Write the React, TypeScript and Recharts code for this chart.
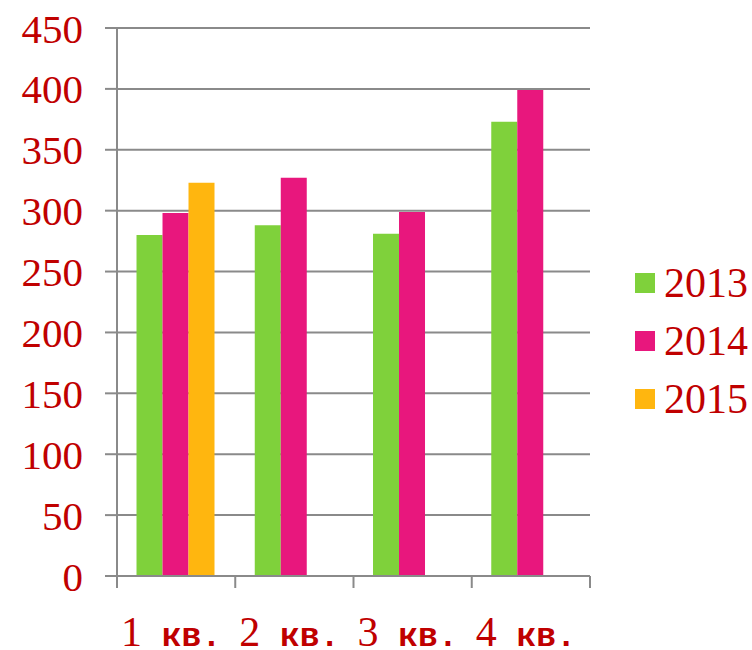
import React from "react";
import { BarChart, Bar, XAxis, YAxis, CartesianGrid } from "recharts";

// Quarterly figures by year
const quarters = ["1 кв.", "2 кв.", "3 кв.", "4 кв."];
const values2013 = [280, 288, 281, 373];
const values2014 = [298, 327, 299, 399];
const values2015: (number | null)[] = [323, null, null, null];
const yTicks = [0, 50, 100, 150, 200, 250, 300, 350, 400, 450];

const series = [
  { key: "y2013", name: "2013", color: "#7FD13B" },
  { key: "y2014", name: "2014", color: "#E8177D" },
  { key: "y2015", name: "2015", color: "#FFB60F" },
];

const TEXT_RED = "#C00000";
const LINE_GRAY = "#8A8A8A";
const SERIF = "'Liberation Serif', 'Times New Roman', serif";
const MONO = "'Liberation Mono', 'Courier New', monospace";

const data = quarters.map((q, i) => ({
  quarter: q,
  y2013: values2013[i],
  y2014: values2014[i],
  y2015: values2015[i],
}));

// Category label: quarter number in serif, the "кв." suffix in bold monospace,
// plus tick marks on the band boundaries.
const QuarterTick = (props: any) => {
  const { x, y, payload, index } = props;
  const label: string = payload.value;
  const spaceAt = label.indexOf(" ");
  const num = label.slice(0, spaceAt);
  const rest = label.slice(spaceAt);
  const half = payload.offset ?? 0;
  const isLast = index === quarters.length - 1;
  return (
    <g>
      <line x1={x - half} x2={x - half} y1={y} y2={y + 12} stroke={LINE_GRAY} strokeWidth={2} />
      {isLast && (
        <line x1={x + half} x2={x + half} y1={y} y2={y + 12} stroke={LINE_GRAY} strokeWidth={2} />
      )}
      <text x={x} y={y + 70} dx={-5} textAnchor="middle" fill={TEXT_RED} style={{ whiteSpace: "pre" }}>
        <tspan fontFamily={SERIF} fontSize={42}>{num}</tspan>
        <tspan fontFamily={MONO} fontWeight="bold" fontSize={33}>{rest}</tspan>
      </text>
    </g>
  );
};

const YearLegend = () => (
  <div style={{ position: "absolute", left: 635, top: 254, width: 117 }}>
    {series.map((s) => (
      <div key={s.key} style={{ display: "flex", alignItems: "center", height: 58 }}>
        <div style={{ width: 20, height: 20, background: s.color, marginRight: 9 }} />
        <span style={{ fontFamily: SERIF, fontSize: 42, lineHeight: "58px", color: TEXT_RED }}>
          {s.name}
        </span>
      </div>
    ))}
  </div>
);

export default function App() {
  return (
    <div style={{ position: "absolute", left: 0, top: 0, width: 752, height: 650, background: "#fff" }}>
      <BarChart
        width={752}
        height={650}
        data={data}
        margin={{ top: 28, right: 162, bottom: 0, left: 0 }}
        barCategoryGap="16.5%"
        barGap={0}
      >
        <CartesianGrid vertical={false} stroke={LINE_GRAY} strokeWidth={2} />
        <XAxis
          dataKey="quarter"
          height={74}
          axisLine={{ stroke: LINE_GRAY, strokeWidth: 2 }}
          tickLine={false}
          tickSize={0}
          tickMargin={0}
          interval={0}
          tick={<QuarterTick />}
        />
        <YAxis
          width={117}
          domain={[0, 450]}
          ticks={yTicks}
          interval={0}
          axisLine={{ stroke: LINE_GRAY, strokeWidth: 2 }}
          tickLine={{ stroke: LINE_GRAY, strokeWidth: 2 }}
          tickSize={12}
          tickMargin={22}
          tick={{ fill: TEXT_RED, fontFamily: SERIF, fontSize: 41 }}
        />
        {series.map((s) => (
          <Bar key={s.key} dataKey={s.key} name={s.name} fill={s.color} isAnimationActive={false} />
        ))}
      </BarChart>
      <YearLegend />
    </div>
  );
}
